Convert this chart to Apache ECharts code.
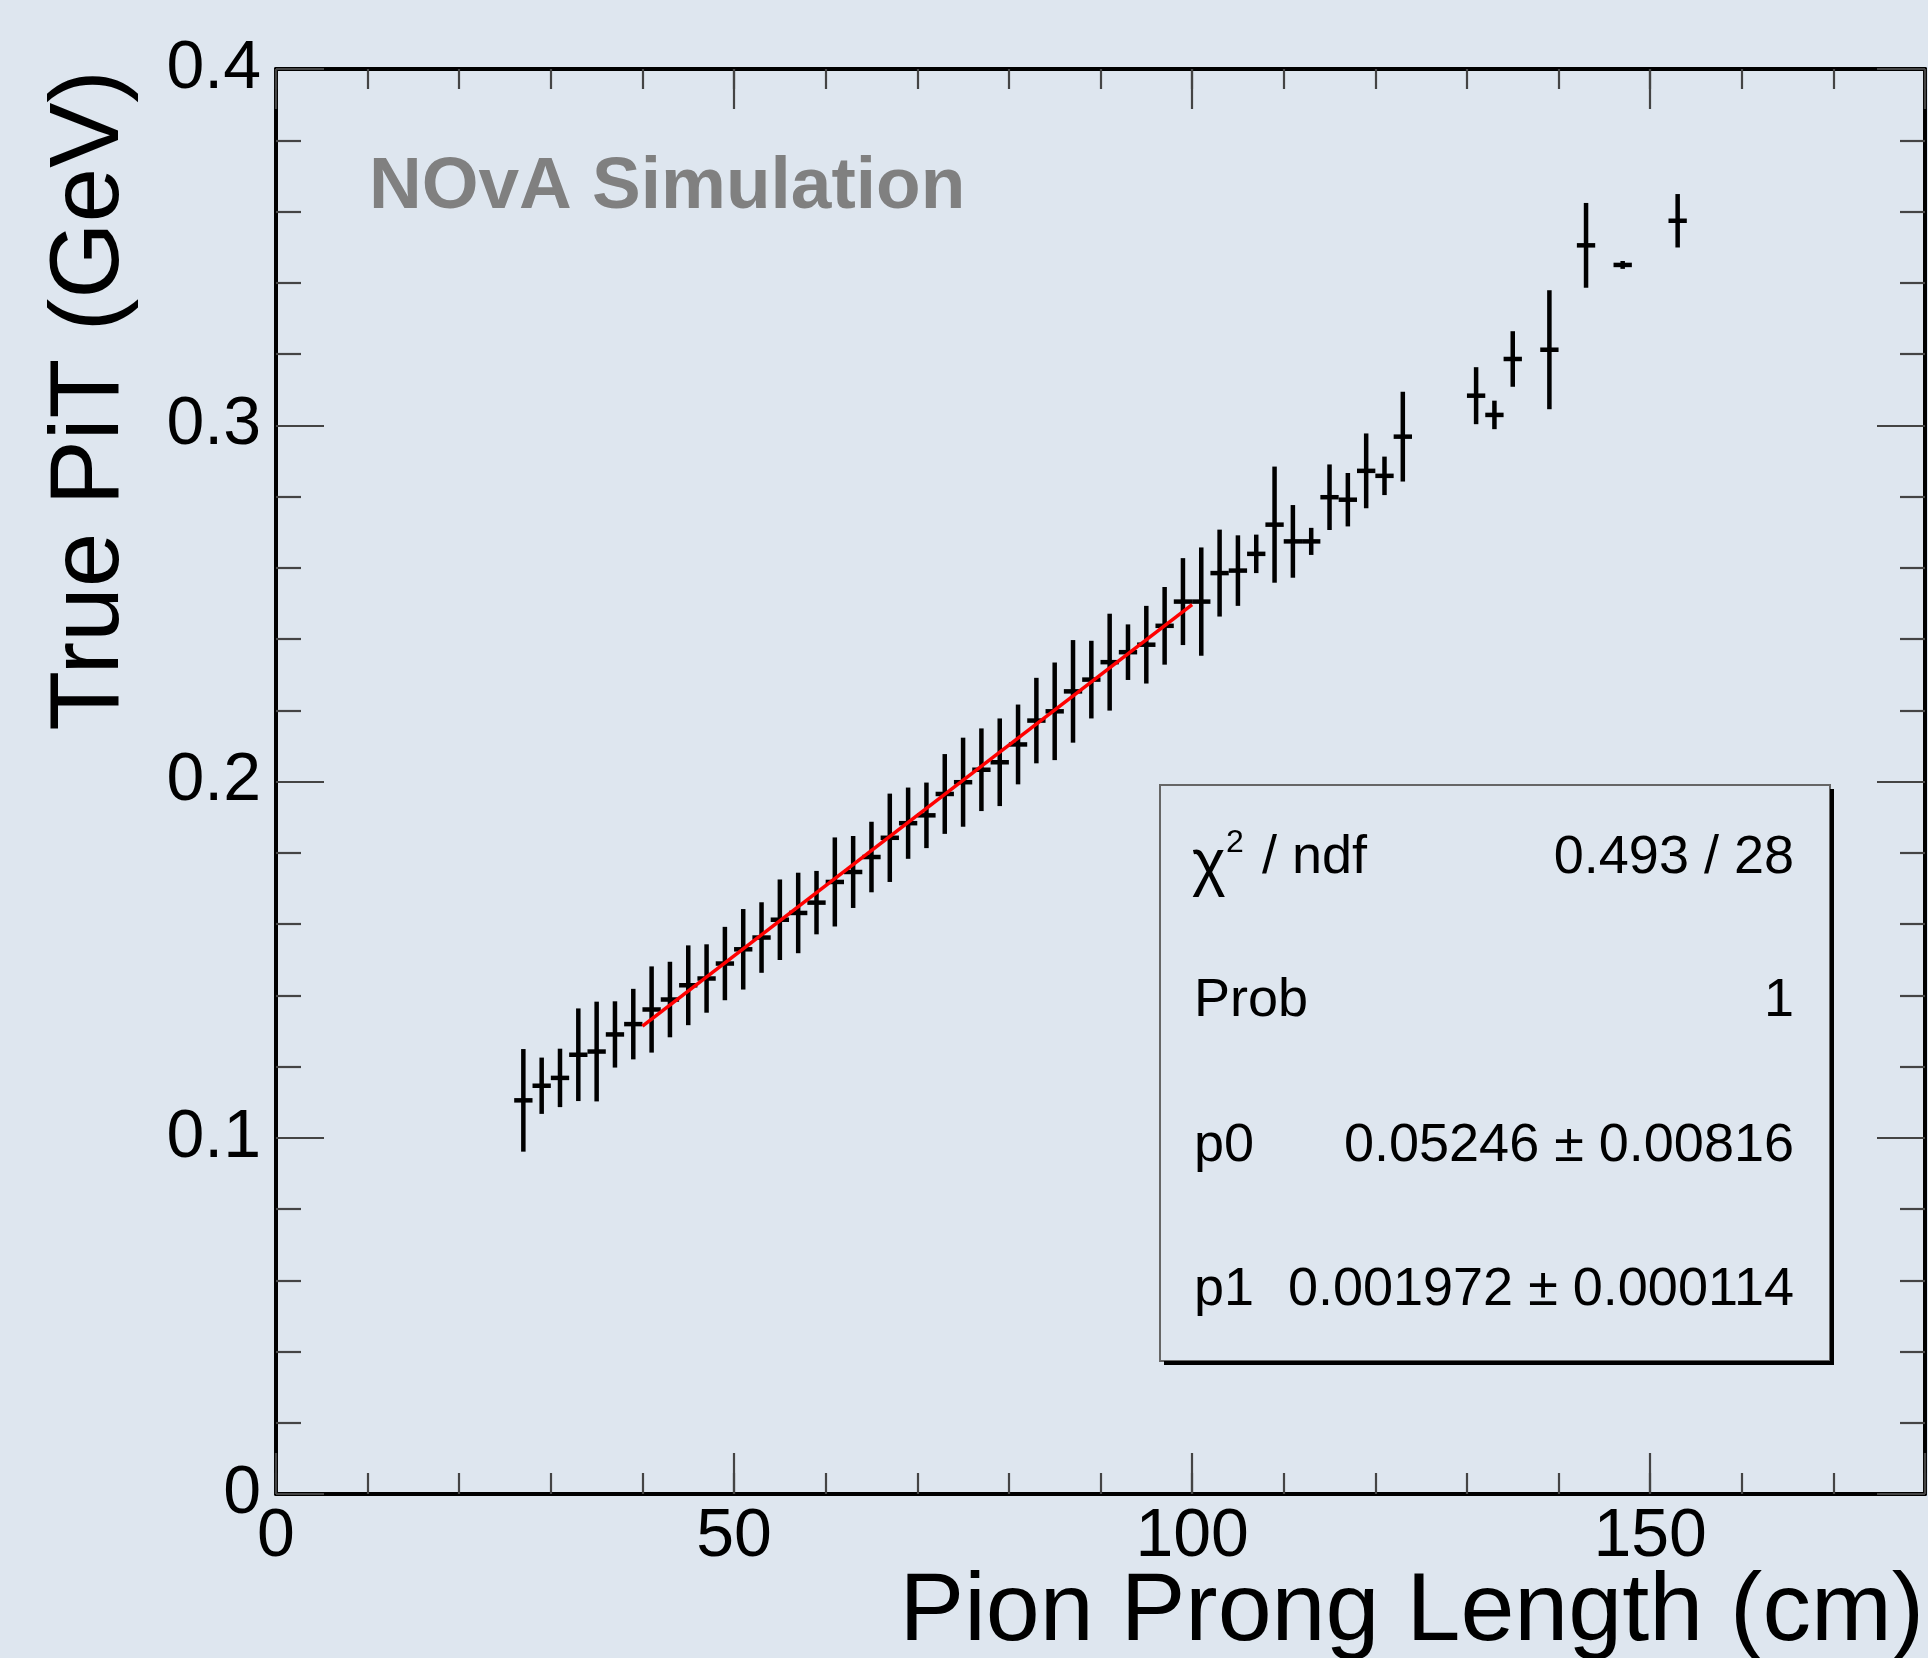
<!DOCTYPE html>
<html><head><meta charset="utf-8">
<script src="https://cdn.jsdelivr.net/npm/echarts/dist/echarts.min.js"></script>
<style>html,body{margin:0;padding:0;background:#dee6ef;} #c{width:1928px;height:1658px;}</style>
</head><body><div id="c"></div>
<script>
// ---- data ----
const binCenters = [27,29,31,33,35,37,39,41,43,45,47,49,51,53,55,57,59,61,
  63,65,67,69,71,73,75,77,79,81,83,85,87,89,91,93,95,97,99,101,103,105,107,109,111,113,115,117,119,121,123,
  131,133,135,139,143,147,153];
const trueMeans = [0.1105,0.1146,0.1168,0.1233,0.1242,0.1290,0.1319,0.1360,0.1388,0.1428,0.1447,0.1489,0.1529,0.1562,0.1612,0.1631,0.1660,0.1718,
  0.1746,0.1788,0.1842,0.1883,0.1905,0.1965,0.1998,0.2033,0.2054,0.2104,0.2171,0.2197,0.2253,0.2286,0.2335,0.2363,0.2384,0.2437,0.2505,0.2505,0.2585,0.2592,0.2639,0.2721,0.2674,0.2674,0.2798,0.2791,0.2872,0.2858,0.2968,
  0.3083,0.3029,0.3186,0.3212,0.3505,0.3450,0.3574];
const meanErrors = [0.0144,0.0079,0.0082,0.0130,0.0140,0.0093,0.0099,0.0121,0.0106,0.0112,0.0096,0.0103,0.0113,0.0099,0.0113,0.0113,0.0089,0.0125,
  0.0101,0.0099,0.0124,0.0100,0.0092,0.0112,0.0125,0.0116,0.0123,0.0112,0.0120,0.0137,0.0144,0.0109,0.0136,0.0078,0.0109,0.0109,0.0122,0.0152,0.0122,0.0099,0.0054,0.0163,0.0102,0.0038,0.0092,0.0075,0.0105,0.0054,0.0126,
  0.0080,0.0040,0.0078,0.0167,0.0119,0.0011,0.0075];
const binHalfWidth = 1;
const fitP0 = 0.05246;
const fitP1 = 0.001972;
const fitRange = [40, 100];
const statsLabels = ['χ', 'Prob', 'p0', 'p1'];
const statsValues = ['0.493 / 28', '1', '0.05246 ± 0.00816', '0.001972 ± 0.000114'];
const xTitle = 'Pion Prong Length (cm)';
const yTitle = 'True PiT (GeV)';
const watermark = 'NOvA Simulation';

// ---- chart ----
const FONT = "'Liberation Sans', Arial, Helvetica, sans-serif";
const chart = echarts.init(document.getElementById('c'), null, {renderer:'canvas'});
const errData = binCenters.map((x,i)=>[x, trueMeans[i], meanErrors[i]]);
const fitData = fitRange.map(x=>[x, fitP0 + fitP1*x]);

const tickStyle = {color:'#444', width:2.2};
function xAx(pos, interval, len, labels, line){
  return {type:'value', position:pos, min:0, max:180, interval:interval,
    axisLine:{show:line, onZero:false, lineStyle:{color:'#000', width:4}},
    axisTick:{show:true, inside:true, length:len, lineStyle:tickStyle},
    axisLabel:{show:labels, fontSize:68, fontFamily:FONT, color:'#000', margin:9,
      formatter:v=> (v%50===0 ? String(v) : '')},
    splitLine:{show:false}};
}
function yAx(pos, labels){
  return {type:'value', position:pos, min:0, max:0.4, interval:0.1,
    axisLine:{show:true, onZero:false, lineStyle:{color:'#000', width:4}},
    axisTick:{show:true, inside:true, length:48, lineStyle:tickStyle},
    minorTick:{show:true, splitNumber:5, length:25, lineStyle:tickStyle},
    axisLabel:{show:labels, fontSize:68, fontFamily:FONT, color:'#000', margin:15,
      formatter:v=> (v===0 ? '0' : v.toFixed(1))},
    splitLine:{show:false}, minorSplitLine:{show:false}};
}

const boxX = 1160, boxY = 785, boxW = 670, boxH = 576;
const rowY = [858, 1001, 1146, 1290];
const valFont = '54px ' + FONT;
const graphics = [
  {type:'text', x:369, y:188, style:{text:watermark, font:'bold 73px '+FONT, fill:'#808080', verticalAlign:'middle', align:'left'}},
  {type:'text', x:1924, y:1613, style:{text:xTitle, font:'97px '+FONT, fill:'#000', align:'right', verticalAlign:'middle'}},
  {type:'text', x:91, y:70, rotation:Math.PI/2, style:{text:yTitle, font:'98px '+FONT, fill:'#000', align:'right', verticalAlign:'middle'}},
  {type:'rect', shape:{x:boxX, y:boxY, width:boxW, height:boxH}, style:{fill:'#dee6ef', stroke:'#666', lineWidth:2}, z:10},
  {type:'polyline', shape:{points:[[boxX+boxW+2, boxY+4],[boxX+boxW+2, boxY+boxH+2],[boxX+4, boxY+boxH+2]]}, style:{stroke:'#000', lineWidth:4, fill:null}, z:10},
];
graphics.push({type:'text', x:1192, y:rowY[0]+8, z:11, style:{text:statsLabels[0], font:'64px '+FONT, fill:'#000', align:'left', verticalAlign:'middle'}});
graphics.push({type:'text', x:1226, y:rowY[0]-15, z:11, style:{text:'2', font:'32px '+FONT, fill:'#000', align:'left', verticalAlign:'middle'}});
graphics.push({type:'text', x:1262, y:rowY[0], z:11, style:{text:'/ ndf', font:valFont, fill:'#000', align:'left', verticalAlign:'middle'}});
for (let i=1;i<4;i++){
  graphics.push({type:'text', x:1194, y:rowY[i], z:11, style:{text:statsLabels[i], font:valFont, fill:'#000', align:'left', verticalAlign:'middle'}});
}
for (let i=0;i<4;i++){
  graphics.push({type:'text', x:1794, y:rowY[i], z:11, style:{text:statsValues[i], font:valFont, fill:'#000', align:'right', verticalAlign:'middle'}});
}

chart.setOption({
  backgroundColor:'#dee6ef',
  animation:false,
  textStyle:{fontFamily:FONT},
  grid:{left:276, top:69, right:3, bottom:164, containLabel:false},
  xAxis:[xAx('bottom',50,41,true,true), xAx('bottom',10,21,false,false), xAx('top',50,40,false,true), xAx('top',10,20,false,false)],
  yAxis:[yAx('left',true), yAx('right',false)],
  series:[
    {type:'custom', xAxisIndex:0, yAxisIndex:0, z:2, data:errData,
     renderItem:function(params, api){
       const x = api.value(0), y = api.value(1), e = api.value(2);
       const c = api.coord([x,y]);
       const t = api.coord([x, y+e]), b = api.coord([x, y-e]);
       const l = api.coord([x-binHalfWidth, y]), r = api.coord([x+binHalfWidth, y]);
       return {type:'group', children:[
         {type:'line', shape:{x1:c[0], y1:t[1], x2:c[0], y2:b[1]}, style:{stroke:'#000', lineWidth:4.5}},
         {type:'line', shape:{x1:l[0], y1:c[1], x2:r[0], y2:c[1]}, style:{stroke:'#000', lineWidth:4.5}}
       ]};
     }},
    {type:'line', xAxisIndex:0, yAxisIndex:0, z:3, data:fitData, showSymbol:false, symbol:'none',
     lineStyle:{color:'#ff0000', width:3.5}}
  ],
  graphic:graphics
});
</script></body></html>
